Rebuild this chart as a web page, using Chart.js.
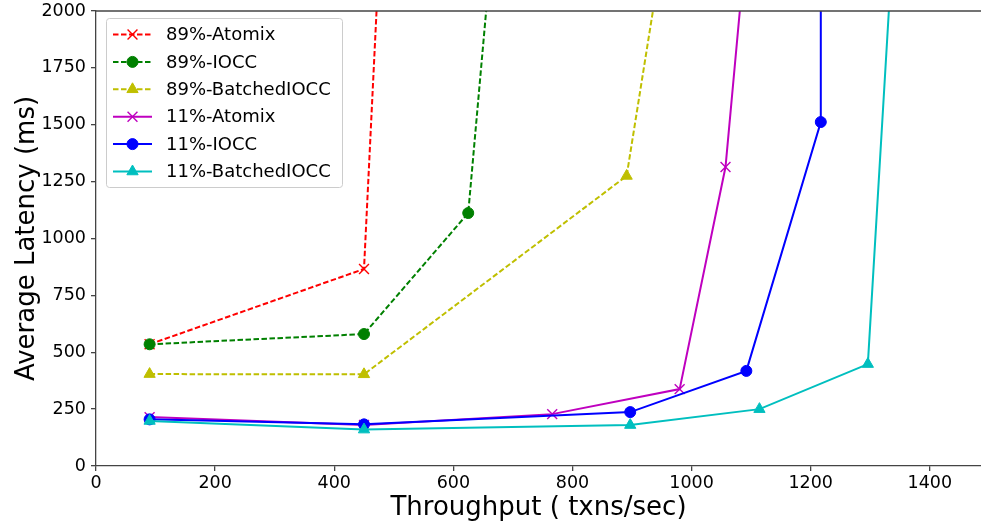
<!DOCTYPE html>
<html>
<head>
<meta charset="utf-8">
<script src="https://cdn.jsdelivr.net/npm/chart.js@4"></script>
<style>
  html, body { margin: 0; padding: 0; background: #fff; }
  #wrap { width: 981px; height: 527px; }
</style>
</head>
<body>
<div id="wrap"><canvas id="chart" width="981" height="527"></canvas></div>
<script>
// series values (last point of each goes off the top)
const seriesNames = ['89%-Atomix', '89%-IOCC', '89%-BatchedIOCC', '11%-Atomix', '11%-IOCC', '11%-BatchedIOCC'];

const atomix89X = [90, 450, 490];
const atomix89Y = [535, 866, 3020];
const iocc89X = [90, 450, 625, 689];
const iocc89Y = [535, 580, 1112, 3000];
const batched89X = [90, 450, 891, 996];
const batched89Y = [404, 403, 1275, 3000];
const atomix11X = [90, 450, 766, 980, 1057, 1116];
const atomix11Y = [215, 180, 228, 338, 1314, 3000];
const iocc11X = [90, 450, 897, 1092, 1217, 1217];
const iocc11Y = [205, 183, 237, 418, 1512, 3000];
const batched11X = [90, 450, 897, 1114, 1296, 1354];
const batched11Y = [198, 160, 180, 250, 448, 3000];

const xTicks = [0, 200, 400, 600, 800, 1000, 1200, 1400];
const yTicks = [0, 250, 500, 750, 1000, 1250, 1500, 1750, 2000];

const colors = ['#ff0000', '#008000', '#bfbf00', '#bf00bf', '#0000ff', '#00bfbf'];
const markers = ['crossRot', 'circle', 'triangle', 'crossRot', 'circle', 'triangle'];
const dashed = [true, true, true, false, false, false];

function pts(xs, ys) {
  return xs.map((x, i) => ({ x: x, y: ys[i] }));
}

const allData = [
  pts(atomix89X, atomix89Y),
  pts(iocc89X, iocc89Y),
  pts(batched89X, batched89Y),
  pts(atomix11X, atomix11Y),
  pts(iocc11X, iocc11Y),
  pts(batched11X, batched11Y)
];

function markerRadius(m) {
  if (m === 'crossRot') return 7;
  if (m === 'triangle') return 6.5;
  return 5.5;
}

const LW = 2;

const datasets = allData.map((d, i) => ({
  label: seriesNames[i],
  data: d,
  borderColor: colors[i],
  backgroundColor: colors[i],
  borderWidth: LW,
  borderDash: dashed[i] ? [5.5, 2.5] : [],
  pointStyle: markers[i],
  pointRadius: markerRadius(markers[i]),
  pointBorderWidth: markers[i] === 'crossRot' ? 1.4 : 1,
  pointBackgroundColor: colors[i],
  pointBorderColor: colors[i],
  tension: 0,
  order: 6 - i
}));

const FONT = 'DejaVu Sans';

// top spine + matplotlib style legend box
const extras = {
  id: 'extras',
  afterDraw(chart) {
    const ctx = chart.ctx;
    const a = chart.chartArea;
    ctx.save();
    ctx.strokeStyle = '#444';
    ctx.lineWidth = 1.3;
    ctx.beginPath();
    ctx.moveTo(a.left, a.top);
    ctx.lineTo(a.right, a.top);
    ctx.stroke();

    // legend
    const bx = 106, by = 18, bw = 236, bh = 169;
    ctx.fillStyle = 'rgba(255,255,255,0.8)';
    ctx.strokeStyle = '#cccccc';
    ctx.lineWidth = 1;
    ctx.beginPath();
    ctx.roundRect(bx + 0.5, by + 0.5, bw, bh, 3);
    ctx.fill();
    ctx.stroke();

    ctx.font = '18px "' + FONT + '"';
    ctx.textBaseline = 'middle';
    for (let i = 0; i < seriesNames.length; i++) {
      const y = 34.5 + i * 27.4;
      ctx.strokeStyle = colors[i];
      ctx.fillStyle = colors[i];
      ctx.lineWidth = LW;
      ctx.setLineDash(dashed[i] ? [5.5, 2.5] : []);
      ctx.beginPath();
      ctx.moveTo(113, y);
      ctx.lineTo(152, y);
      ctx.stroke();
      ctx.setLineDash([]);
      ctx.lineWidth = markers[i] === 'crossRot' ? 1.4 : 1;
      Chart.helpers.drawPoint(ctx, {
        pointStyle: markers[i],
        radius: markerRadius(markers[i]),
        rotation: 0,
        borderWidth: markers[i] === 'crossRot' ? 1.4 : 1
      }, 132.5, y);
      ctx.fillStyle = '#000';
      ctx.fillText(seriesNames[i], 166, y + 1);
    }
    ctx.restore();
  }
};

const chart = new Chart(document.getElementById('chart'), {
  type: 'line',
  data: { datasets: datasets },
  options: {
    responsive: false,
    animation: false,
    layout: { autoPadding: false, padding: { top: 11, right: 0, left: 0, bottom: 0 } },
    plugins: {
      legend: { display: false },
      tooltip: { enabled: false }
    },
    scales: {
      x: {
        type: 'linear',
        min: 0,
        max: 1486,
        afterFit(scale) { scale.height = 61; scale.paddingRight = 0; scale.paddingLeft = 0; },
        afterBuildTicks(scale) { scale.ticks = xTicks.map(v => ({ value: v })); },
        grid: { drawOnChartArea: false, drawTicks: true, tickLength: 5, color: '#444', lineWidth: 1.3 },
        border: { display: true, color: '#444', width: 1.3 },
        ticks: { color: '#000', font: { family: FONT, size: 17.5 }, padding: 2, maxRotation: 0, callback: v => String(v) },
        title: { display: true, text: 'Throughput ( txns/sec)', color: '#000', font: { family: FONT, size: 26, lineHeight: 1 }, padding: { top: 0, bottom: 6 } }
      },
      y: {
        type: 'linear',
        min: 0,
        max: 2000,
        afterFit(scale) { scale.width = 96; scale.paddingTop = 0; scale.paddingBottom = 0; },
        afterBuildTicks(scale) { scale.ticks = yTicks.map(v => ({ value: v })); },
        grid: { drawOnChartArea: false, drawTicks: true, tickLength: 5, color: '#444', lineWidth: 1.3 },
        border: { display: true, color: '#444', width: 1.3 },
        ticks: { color: '#000', font: { family: FONT, size: 17.5 }, padding: 5, callback: v => String(v) },
        title: { display: true, text: 'Average Latency (ms)', color: '#000', font: { family: FONT, size: 26, lineHeight: 1 }, padding: { top: 14, bottom: 0 } }
      }
    }
  },
  plugins: [extras]
});
</script>
</body>
</html>
